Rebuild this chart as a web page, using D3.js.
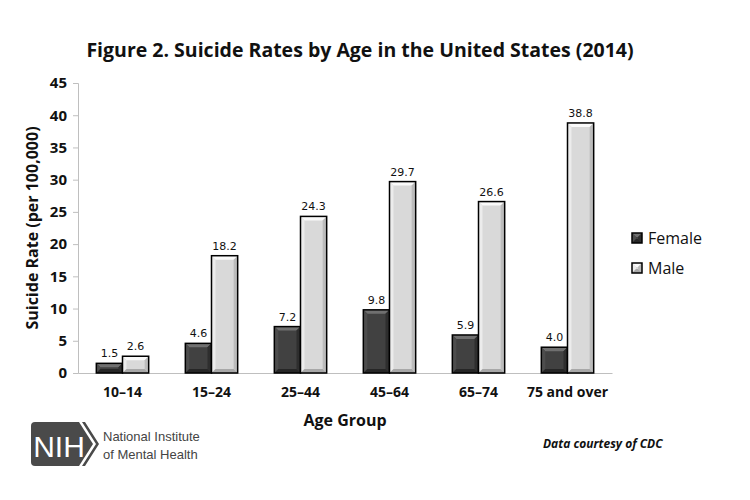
<!DOCTYPE html>
<html lang="en">
<head>
<meta charset="UTF-8">
<title>Suicide Rates by Age</title>
<script src="https://d3js.org/d3.v7.min.js"></script>
<style>
    body { margin: 0; padding: 0; background: #fff; }
    svg { display: block; font-family: "Open Sans", "Noto Sans", sans-serif; }
</style>
</head>
<body>
<div id="chart"></div>
<script>
    // data
    const ageGroups = ["10\u201314", "15\u201324", "25\u201344", "45\u201364", "65\u201374", "75 and over"];
    const femaleRates = [1.5, 4.6, 7.2, 9.8, 5.9, 4.0];
    const maleRates = [2.6, 18.2, 24.3, 29.7, 26.6, 38.8];
    const seriesNames = ["Female", "Male"];
    const yTicks = [0, 5, 10, 15, 20, 25, 30, 35, 40, 45];

    const width = 750, height = 500;
    const plot = { left: 78, right: 612, top: 83, bottom: 373 };

    // colours for the bevelled bars: face, top, left, right, bottom
    const shades = {
        Female: { face: "#414141", top: "#707070", left: "#4d4d4d", right: "#2e2e2e", bottom: "#262626" },
        Male:   { face: "#d9d9d9", top: "#fafafa", left: "#ececec", right: "#bcbcbc", bottom: "#a8a8a8" }
    };

    const svg = d3.select("#chart").append("svg")
        .attr("width", width)
        .attr("height", height);

    const x = d3.scaleBand().domain(ageGroups).range([plot.left, plot.right]);
    const inner = d3.scaleBand().domain(seriesNames)
        .range([0, x.bandwidth()]).paddingInner(0).paddingOuter(0.7);
    const y = d3.scaleLinear().domain([0, 45]).range([plot.bottom, plot.top]);

    // title
    svg.append("text")
        .attr("x", 360).attr("y", 57)
        .attr("text-anchor", "middle")
        .attr("font-size", 19.5).attr("font-weight", "bold")
        .attr("fill", "#111")
        .text("Figure 2. Suicide Rates by Age in the United States (2014)");

    // y axis
    const yAxis = svg.append("g")
        .attr("transform", `translate(${plot.left},0)`)
        .call(d3.axisLeft(y).tickValues(yTicks).tickSize(5).tickPadding(6));
    yAxis.select(".domain").attr("stroke", "#bfbfbf");
    yAxis.selectAll(".tick line").attr("stroke", "#bfbfbf");
    yAxis.selectAll(".tick text")
        .attr("font-size", 15).attr("font-weight", "bold").attr("fill", "#111")
        .attr("font-family", "Open Sans, sans-serif");

    // x axis baseline + labels
    const xAxis = svg.append("g")
        .attr("transform", `translate(0,${plot.bottom})`)
        .call(d3.axisBottom(x).tickSize(0).tickPadding(14));
    xAxis.select(".domain").attr("stroke", "#bfbfbf");
    xAxis.selectAll(".tick text")
        .attr("font-size", 14).attr("font-weight", "bold").attr("fill", "#111")
        .attr("font-family", "Open Sans, sans-serif");

    // axis titles
    svg.append("text")
        .attr("transform", `translate(38,${(plot.top + plot.bottom) / 2}) rotate(-90)`)
        .attr("text-anchor", "middle")
        .attr("font-size", 16).attr("font-weight", "bold").attr("fill", "#111")
        .text("Suicide Rate (per 100,000)");

    svg.append("text")
        .attr("x", 345).attr("y", 426)
        .attr("text-anchor", "middle")
        .attr("font-size", 16).attr("font-weight", "bold").attr("fill", "#111")
        .text("Age Group");

    // bevelled bar helper
    function bevelBar(g, x0, y0, w, h, c) {
        const b = Math.min(4, h / 2, w / 2);
        const x1 = x0 + w, y1 = y0 + h;
        const poly = pts => g.append("polygon").attr("points", pts.map(p => p.join(",")).join(" "));
        g.append("rect").attr("x", x0).attr("y", y0).attr("width", w).attr("height", h).attr("fill", c.face);
        poly([[x0, y0], [x1, y0], [x1 - b, y0 + b], [x0 + b, y0 + b]]).attr("fill", c.top);
        poly([[x0, y0], [x0 + b, y0 + b], [x0 + b, y1 - b], [x0, y1]]).attr("fill", c.left);
        poly([[x1, y0], [x1, y1], [x1 - b, y1 - b], [x1 - b, y0 + b]]).attr("fill", c.right);
        poly([[x0, y1], [x0 + b, y1 - b], [x1 - b, y1 - b], [x1, y1]]).attr("fill", c.bottom);
        g.append("rect").attr("x", x0).attr("y", y0).attr("width", w).attr("height", h)
            .attr("fill", "none").attr("stroke", "#000").attr("stroke-width", 1.5);
    }

    const rows = ageGroups.map((a, i) => ({ group: a, Female: femaleRates[i], Male: maleRates[i] }));

    rows.forEach(r => {
        seriesNames.forEach(s => {
            const g = svg.append("g");
            const bx = x(r.group) + inner(s);
            const by = y(r[s]);
            bevelBar(g, bx, by, inner.bandwidth(), plot.bottom - by, shades[s]);
            svg.append("text")
                .attr("x", bx + inner.bandwidth() / 2)
                .attr("y", by - 6)
                .attr("text-anchor", "middle")
                .attr("font-size", 11).attr("fill", "#111")
                .attr("font-family", "DejaVu Sans, sans-serif")
                .text(r[s].toFixed(1));
        });
    });

    // legend
    const legend = svg.append("g").attr("transform", "translate(632,233)");
    seriesNames.forEach((s, i) => {
        const g = legend.append("g").attr("transform", `translate(0,${i * 30})`);
        bevelBar(g, 0, 0, 10, 10, shades[s]);
        g.append("text")
            .attr("x", 16).attr("y", 11)
            .attr("font-size", 16).attr("fill", "#111")
            .text(s);
    });

    // NIH logo
    const logo = svg.append("g").attr("transform", "translate(31,422)");
    logo.append("path")
        .attr("d", "M4,0 H48 L62,22 L48,44 H4 Q0,44 0,40 V4 Q0,0 4,0 Z")
        .attr("fill", "#4a4a4a");
    logo.append("path")
        .attr("d", "M51,0 H54 L68,22 L54,44 H51 L65,22 Z")
        .attr("fill", "#4a4a4a");
    logo.append("text")
        .attr("x", 28).attr("y", 35)
        .attr("text-anchor", "middle")
        .attr("font-family", "Liberation Sans, Arial, sans-serif")
        .attr("font-size", 30).attr("fill", "#fff")
        .text("NIH");
    svg.append("text")
        .attr("x", 103).attr("y", 441)
        .attr("font-family", "Liberation Sans, Arial, sans-serif")
        .attr("font-size", 13).attr("fill", "#444")
        .text("National Institute");
    svg.append("text")
        .attr("x", 103).attr("y", 459)
        .attr("font-family", "Liberation Sans, Arial, sans-serif")
        .attr("font-size", 13).attr("fill", "#444")
        .text("of Mental Health");

    svg.append("text")
        .attr("x", 543).attr("y", 448)
        .attr("font-size", 12).attr("font-weight", "bold").attr("font-style", "italic")
        .attr("fill", "#111")
        .text("Data courtesy of CDC");
</script>
</body>
</html>
